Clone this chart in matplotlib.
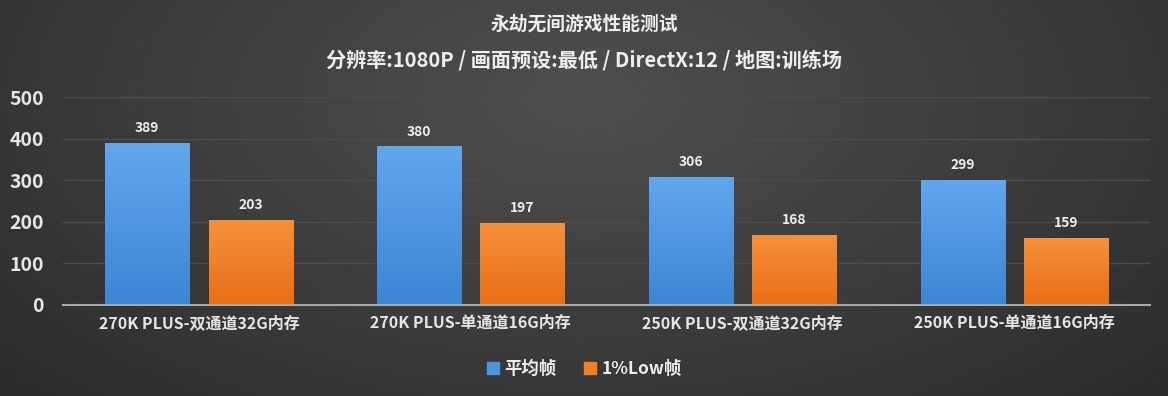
import numpy as np
import matplotlib
matplotlib.use("Agg")
import matplotlib.pyplot as plt
from matplotlib.patches import Patch

plt.rcParams['font.family'] = ['Noto Sans CJK SC', 'DejaVu Sans']

categories = ["270K PLUS-双通道32G内存", "270K PLUS-单通道16G内存",
              "250K PLUS-双通道32G内存", "250K PLUS-单通道16G内存"]
avg_fps = [389, 380, 306, 299]
low_fps = [203, 197, 168, 159]
series_names = ["平均帧", "1%Low帧"]

title = "永劫无间游戏性能测试"
subtitle = "分辨率:1080P / 画面预设:最低 / DirectX:12 / 地图:训练场"

fig = plt.figure(figsize=(11.68, 3.96), dpi=100)

# background: radial-ish grey gradient
bg = fig.add_axes([0, 0, 1, 1], zorder=-10)
yy, xx = np.mgrid[0:1:200j, 0:1:400j]
r = np.sqrt(((xx - 0.5) / 0.7) ** 2 + ((yy - 0.75) / 1.1) ** 2)
bg.imshow(0.31 - 0.14 * np.clip(r, 0, 1), cmap='gray', vmin=0, vmax=1,
          aspect='auto', extent=[0, 1, 0, 1], origin='lower')
bg.axis('off')

ax = fig.add_axes([0.054, 0.23, 0.931, 0.525])
ax.patch.set_alpha(0)

x = np.arange(len(categories))
w = 0.31
off = 0.19

def grad_bar(xc, h, top, bottom):
    img = np.linspace(0, 1, 50).reshape(-1, 1)
    c0 = np.array(matplotlib.colors.to_rgb(bottom))
    c1 = np.array(matplotlib.colors.to_rgb(top))
    rgb = c0 + (c1 - c0) * img[:, :, None]
    ax.imshow(rgb, extent=[xc - w / 2, xc + w / 2, 0, h], origin='lower',
              aspect='auto', zorder=3)

for i in range(len(categories)):
    grad_bar(x[i] - off, avg_fps[i], '#62a6ec', '#3c86d4')
    grad_bar(x[i] + off, low_fps[i], '#f6903c', '#e86f16')
    ax.text(x[i] - off, avg_fps[i] + 20, str(avg_fps[i]), ha='center', va='bottom',
            color='#eeeeee', fontsize=10, fontweight='bold')
    ax.text(x[i] + off, low_fps[i] + 20, str(low_fps[i]), ha='center', va='bottom',
            color='#eeeeee', fontsize=10, fontweight='bold')

ax.set_xlim(-0.5, 3.5)
ax.set_ylim(0, 500)
ax.set_yticks([0, 100, 200, 300, 400, 500])
ax.set_xticks(x)
ax.set_xticklabels(categories)
ax.grid(axis='y', color='#4c4c4c', linewidth=1)
ax.set_axisbelow(True)
for s in ['top', 'right', 'left']:
    ax.spines[s].set_visible(False)
ax.spines['bottom'].set_color('#a8a8a8')
ax.spines['bottom'].set_linewidth(1.5)
ax.spines['bottom'].set_zorder(5)
ax.tick_params(length=0)
ax.tick_params(axis='y', colors='#e6e6e6', labelsize=14, pad=14)
ax.tick_params(axis='x', colors='#e6e6e6', labelsize=11.5, pad=7)
for t in ax.get_yticklabels() + ax.get_xticklabels():
    t.set_fontweight('bold')

fig.text(0.5, 0.94, title, ha='center', va='center', color='#eeeeee',
         fontsize=13.5, fontweight='bold')
fig.text(0.5, 0.848, subtitle, ha='center', va='center', color='#eeeeee',
         fontsize=14.5, fontweight='bold')

handles = [Patch(color='#4a94e0'), Patch(color='#f08028')]
fig.legend(handles, series_names, loc='center', bbox_to_anchor=(0.5, 0.067),
           ncol=2, frameon=False, labelcolor='#eeeeee',
           handlelength=0.7, handleheight=0.7, handletextpad=0.3, columnspacing=1.6,
           prop={'weight': 'bold', 'size': 12.5})

fig.savefig("out.png", dpi=100, facecolor='#2e2e2e')
